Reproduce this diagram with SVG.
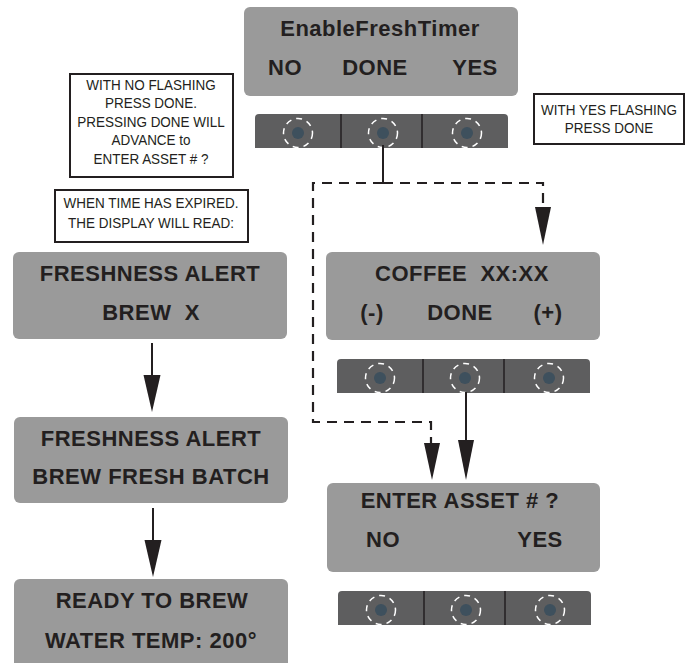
<svg xmlns="http://www.w3.org/2000/svg" xmlns:xlink="http://www.w3.org/1999/xlink" width="690" height="663" viewBox="0 0 690 663">
<style>
.disp{fill:#9a9a9a;}
.dt{font-family:"Liberation Sans",Arial,sans-serif;font-weight:bold;font-size:22px;fill:#231f20;text-anchor:middle;letter-spacing:0.5px;}
.note{fill:#ffffff;stroke:#231f20;stroke-width:2;}
.nt{font-family:"Liberation Sans",Arial,sans-serif;font-size:15.5px;fill:#231f20;text-anchor:middle;}
.bar{fill:#5e5e5f;}
.div{stroke:#231f20;stroke-width:1.5;}
.dot{fill:#3e505d;}
.ring{fill:none;stroke:#ffffff;stroke-width:1.5;stroke-dasharray:6 5;}
.solid{fill:none;stroke:#231f20;stroke-width:2;}
.dash{fill:none;stroke:#231f20;stroke-width:2.2;stroke-dasharray:10 7;}
.head{fill:#231f20;}
</style>
<defs>
<g id="buttons">
<path class="bar" d="M0,34 V4 Q0,0 4,0 H249 Q253,0 253,4 V34 Z"/>
<line class="div" x1="86" y1="0" x2="86" y2="34"/>
<line class="div" x1="167" y1="0" x2="167" y2="34"/>
<circle class="dot" cx="43" cy="19" r="6"/>
<circle class="ring" cx="43" cy="19" r="14.5"/>
<circle class="dot" cx="128" cy="19" r="6"/>
<circle class="ring" cx="128" cy="19" r="14.5"/>
<circle class="dot" cx="212" cy="19" r="6"/>
<circle class="ring" cx="212" cy="19" r="14.5"/>
</g>
</defs>

<g id="enable-fresh-timer">
<rect class="disp" x="244" y="7" width="274" height="89" rx="6"/>
<text class="dt" x="380" y="36">EnableFreshTimer</text>
<text class="dt" x="285" y="75">NO</text>
<text class="dt" x="375" y="75">DONE</text>
<text class="dt" x="475" y="75">YES</text>
<use xlink:href="#buttons" x="255" y="114"/>
</g>

<g id="note-no-flashing">
<rect class="note" x="70" y="74" width="163" height="103"/>
<g transform="translate(151,0) scale(0.87,1)">
<text class="nt" x="0" y="90">WITH NO FLASHING</text>
<text class="nt" x="0" y="108">PRESS DONE.</text>
<text class="nt" x="0" y="127">PRESSING DONE WILL</text>
<text class="nt" x="0" y="145">ADVANCE to</text>
<text class="nt" x="0" y="164">ENTER ASSET # ?</text>
</g>
</g>

<g id="note-yes-flashing">
<rect class="note" x="534" y="94" width="150" height="50"/>
<g transform="translate(609,0) scale(0.87,1)">
<text class="nt" x="0" y="115">WITH YES FLASHING</text>
<text class="nt" x="0" y="133">PRESS DONE</text>
</g>
</g>

<g id="note-time-expired">
<rect class="note" x="55" y="190" width="193" height="52"/>
<g transform="translate(151,0) scale(0.87,1)">
<text class="nt" x="0" y="208">WHEN TIME HAS EXPIRED.</text>
<text class="nt" x="0" y="228">THE DISPLAY WILL READ:</text>
</g>
</g>

<g id="freshness-alert-brew-x">
<rect class="disp" x="13" y="252" width="274" height="87" rx="6"/>
<text class="dt" x="150" y="281">FRESHNESS ALERT</text>
<text class="dt" x="151" y="320" xml:space="preserve">BREW  X</text>
</g>

<g id="freshness-alert-fresh-batch">
<rect class="disp" x="14" y="417" width="274" height="86" rx="6"/>
<text class="dt" x="151" y="446">FRESHNESS ALERT</text>
<text class="dt" x="151" y="484">BREW FRESH BATCH</text>
</g>

<g id="ready-to-brew">
<rect class="disp" x="14" y="579" width="274" height="90" rx="6"/>
<text class="dt" x="152" y="608">READY TO BREW</text>
<text class="dt" x="151" y="648">WATER TEMP: 200°</text>
</g>

<g id="coffee-timer">
<rect class="disp" x="326" y="252" width="274" height="88" rx="6"/>
<text class="dt" x="462" y="281" xml:space="preserve">COFFEE  XX:XX</text>
<text class="dt" x="372" y="320">(-)</text>
<text class="dt" x="460" y="320">DONE</text>
<text class="dt" x="548" y="320">(+)</text>
<use xlink:href="#buttons" x="337" y="359"/>
</g>

<g id="enter-asset">
<rect class="disp" x="327" y="483" width="273" height="89" rx="6"/>
<text class="dt" x="460" y="508">ENTER ASSET # ?</text>
<text class="dt" x="383" y="547">NO</text>
<text class="dt" x="540" y="547">YES</text>
<use xlink:href="#buttons" x="338" y="591"/>
</g>

<g id="connectors">
<line class="solid" x1="383" y1="145" x2="383" y2="184"/>
<path class="dash" d="M383,183 H543 V207"/>
<path class="dash" d="M383,183 H313 V422 H431 V443"/>
<polygon class="head" points="535,207 551,207 543,245"/>
<polygon class="head" points="424,443 440,443 432,480"/>
<line class="solid" x1="466" y1="392" x2="466" y2="442"/>
<polygon class="head" points="458,440 474,440 466,480"/>
<line class="solid" x1="152" y1="343" x2="152" y2="377"/>
<polygon class="head" points="143.5,375 160.5,375 152,412"/>
<line class="solid" x1="153" y1="508" x2="153" y2="542"/>
<polygon class="head" points="144.5,540 161.5,540 153,577"/>
</g>
</svg>
